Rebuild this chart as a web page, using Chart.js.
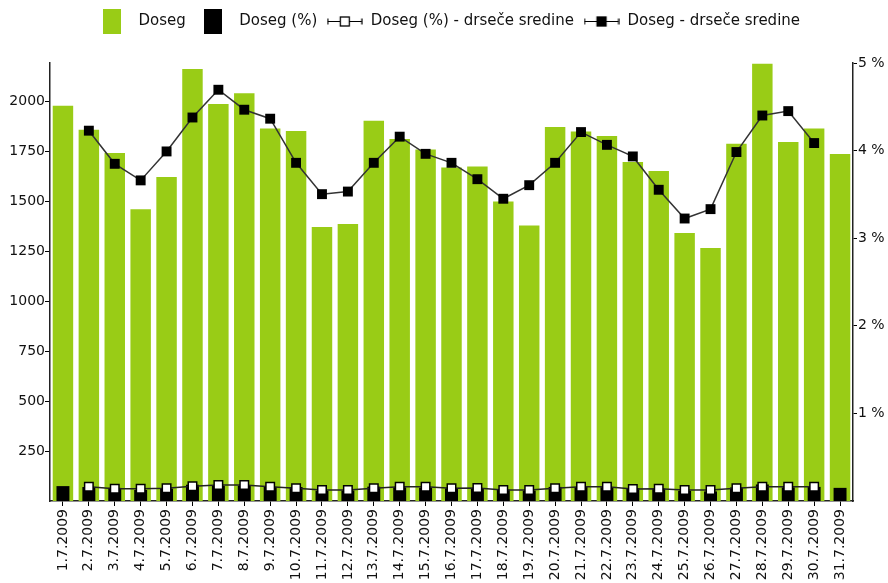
<!DOCTYPE html>
<html>
<head>
<meta charset="utf-8">
<script src="https://cdn.jsdelivr.net/npm/chart.js@4.4.1/dist/chart.umd.min.js"></script>
<style>
  html, body { margin: 0; padding: 0; background: #fff; }
  #wrap { width: 888px; height: 583px; }
</style>
</head>
<body>
<div id="wrap"><canvas id="chart"></canvas></div>
<script>
// Podatki (odčitani s slike)
const dates = ['1.7.2009', '2.7.2009', '3.7.2009', '4.7.2009', '5.7.2009', '6.7.2009', '7.7.2009', '8.7.2009',
    '9.7.2009', '10.7.2009', '11.7.2009', '12.7.2009', '13.7.2009', '14.7.2009', '15.7.2009', '16.7.2009',
    '17.7.2009', '18.7.2009', '19.7.2009', '20.7.2009', '21.7.2009', '22.7.2009', '23.7.2009', '24.7.2009',
    '25.7.2009', '26.7.2009', '27.7.2009', '28.7.2009', '29.7.2009', '30.7.2009', '31.7.2009'];

const doseg = [1980, 1860, 1743, 1462, 1623, 2164, 1988, 2042, 1866, 1853, 1372, 1388, 1905, 1813, 1761, 1671,
    1676, 1500, 1380, 1873, 1851, 1828, 1698, 1653, 1342, 1267, 1789, 2190, 1798, 1866, 1738];

const dosegPct = [0.17, 0.16, 0.15, 0.126, 0.14, 0.186, 0.171, 0.176, 0.161, 0.16, 0.118, 0.12, 0.164, 0.156, 0.152, 0.144,
    0.144, 0.129, 0.119, 0.161, 0.16, 0.158, 0.146, 0.142, 0.116, 0.109, 0.154, 0.189, 0.155, 0.161, 0.15];

const dosegPctMA = [null, 0.164, 0.141, 0.141, 0.146, 0.169, 0.183, 0.183, 0.164, 0.146, 0.126, 0.126, 0.146, 0.164, 0.164, 0.146,
    0.149, 0.126, 0.126, 0.146, 0.164, 0.164, 0.138, 0.141, 0.126, 0.126, 0.146, 0.164, 0.164, 0.164, null];

const dosegMA = [null, 1855, 1689, 1606, 1751, 1921, 2060, 1960, 1915, 1694, 1537, 1550, 1694, 1825, 1739, 1694,
    1612, 1514, 1582, 1694, 1848, 1784, 1726, 1559, 1415, 1462, 1748, 1931, 1953, 1793, null];

const leftTicks = [250, 500, 750, 1000, 1250, 1500, 1750, 2000];
const rightTicks = [1, 2, 3, 4, 5];

const GREEN = '#99cc16';
const FONT = "'DejaVu Sans', Verdana, sans-serif";

// Ikone za legendo
function boxIcon(color) {
    const c = document.createElement('canvas');
    c.width = 18; c.height = 25;
    const g = c.getContext('2d');
    g.fillStyle = color;
    g.fillRect(0, 0, 18, 25);
    return c;
}

function lineIcon(filled) {
    const c = document.createElement('canvas');
    c.width = 36; c.height = 13;
    const g = c.getContext('2d');
    g.strokeStyle = '#000';
    g.lineWidth = 1.2;
    g.beginPath();
    g.moveTo(1, 6.5); g.lineTo(35, 6.5);
    g.moveTo(1, 3.5); g.lineTo(1, 9.5);
    g.moveTo(35, 3.5); g.lineTo(35, 9.5);
    g.stroke();
    g.fillStyle = filled ? '#000' : '#fff';
    g.fillRect(13.5, 2, 9, 9);
    g.lineWidth = 1.3;
    g.strokeRect(13.5, 2, 9, 9);
    return c;
}

const legendIcons = [boxIcon(GREEN), boxIcon('#000'), lineIcon(false), lineIcon(true)];

// Legenda naj zasede prostor do vrha risalne površine
const legendHeightPlugin = {
    id: 'legendHeight',
    afterInit(chart) {
        const legend = chart.legend;
        const fit = legend.fit;
        legend.fit = function() {
            fit.call(this);
            this.height = 58;
        };
    }
};

const ctx = document.getElementById('chart').getContext('2d');
new Chart(ctx, {
    type: 'bar',
    data: {
        labels: dates,
        datasets: [{
            label: 'Doseg',
            data: doseg,
            yAxisID: 'y',
            backgroundColor: GREEN,
            grouped: false,
            barPercentage: 0.79,
            categoryPercentage: 1,
            order: 3
        }, {
            label: 'Doseg (%)',
            data: dosegPct,
            yAxisID: 'y1',
            backgroundColor: '#000',
            grouped: false,
            barPercentage: 0.5,
            categoryPercentage: 1,
            order: 2
        }, {
            type: 'line',
            label: 'Doseg (%) - drseče sredine',
            data: dosegPctMA,
            yAxisID: 'y1',
            borderColor: '#222',
            borderWidth: 1.5,
            pointStyle: 'rect',
            pointRadius: 6,
            pointBackgroundColor: '#fff',
            pointBorderColor: '#000',
            pointBorderWidth: 1.5,
            tension: 0,
            order: 1
        }, {
            type: 'line',
            label: 'Doseg - drseče sredine',
            data: dosegMA,
            yAxisID: 'y',
            borderColor: '#333',
            borderWidth: 1.5,
            pointStyle: 'rect',
            pointRadius: 7,
            pointBackgroundColor: '#000',
            pointBorderColor: '#000',
            pointBorderWidth: 0,
            tension: 0,
            order: 0
        }]
    },
    options: {
        responsive: true,
        maintainAspectRatio: false,
        animation: false,
        layout: {
            padding: { top: 5, left: 6, right: 0, bottom: 0 }
        },
        plugins: {
            legend: {
                display: true,
                position: 'top',
                labels: {
                    usePointStyle: true,
                    pointStyleWidth: 37,
                    padding: 9,
                    color: '#111',
                    font: { family: FONT, size: 15 },
                    generateLabels: chart => chart.data.datasets.map((ds, i) => ({
                        text: ds.label,
                        pointStyle: legendIcons[i],
                        datasetIndex: i,
                        hidden: !chart.isDatasetVisible(i),
                        fontColor: '#111',
                        fillStyle: 'transparent',
                        strokeStyle: 'transparent',
                        lineWidth: 0
                    }))
                }
            },
            tooltip: { enabled: false }
        },
        scales: {
            x: {
                offset: true,
                grid: { display: true, drawOnChartArea: false, drawTicks: true, tickLength: 5, color: '#000', offset: false },
                border: { display: true, color: '#222', width: 1.5 },
                ticks: {
                    autoSkip: false,
                    maxRotation: 90,
                    minRotation: 90,
                    padding: 3,
                    color: '#111',
                    font: { family: FONT, size: 14 }
                },
                afterFit: scale => { scale.height = 82; }
            },
            y: {
                position: 'left',
                min: 0,
                max: 2194,
                grid: { display: true, drawOnChartArea: false, drawTicks: true, tickLength: 5, color: '#000' },
                border: { display: true, color: '#222', width: 1.5 },
                afterBuildTicks: axis => { axis.ticks = leftTicks.map(v => ({ value: v })); },
                ticks: {
                    padding: 0,
                    color: '#111',
                    font: { family: FONT, size: 14 },
                    callback: v => String(v)
                },
                afterFit: scale => { scale.width = 44; }
            },
            y1: {
                position: 'right',
                min: 0,
                max: 5,
                grid: { display: true, drawOnChartArea: false, drawTicks: true, tickLength: 4, color: '#000' },
                border: { display: true, color: '#222', width: 1.5 },
                afterBuildTicks: axis => { axis.ticks = rightTicks.map(v => ({ value: v })); },
                ticks: {
                    padding: 1,
                    color: '#111',
                    font: { family: FONT, size: 14 },
                    callback: v => v + ' %'
                },
                afterFit: scale => { scale.width = 35; }
            }
        }
    },
    plugins: [legendHeightPlugin]
});
</script>
</body>
</html>
